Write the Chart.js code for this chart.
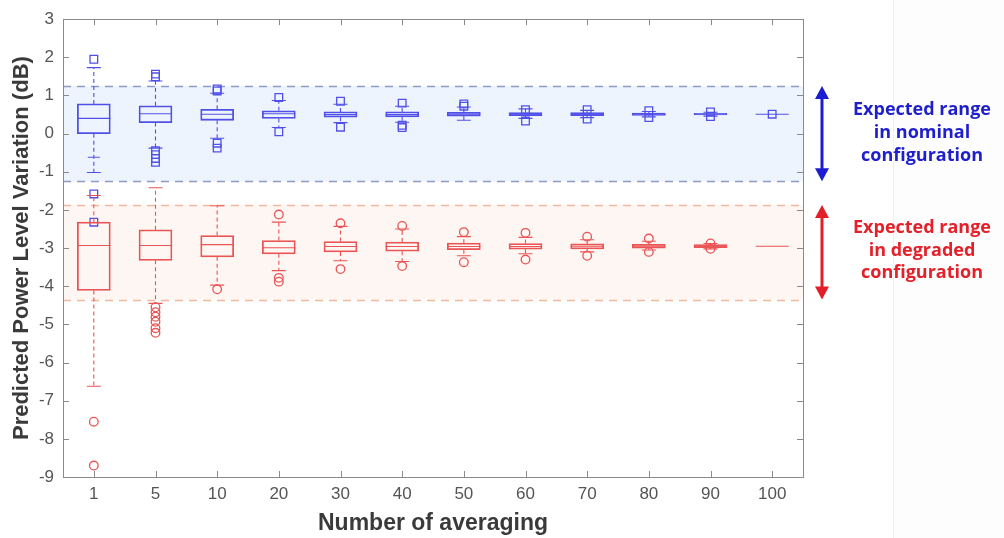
<!DOCTYPE html>
<html><head><meta charset="utf-8">
<script src="https://cdn.jsdelivr.net/npm/chart.js@4/dist/chart.umd.min.js"></script>
<style>html,body{margin:0;padding:0;background:#fff;}#wrap{width:1004px;height:538px;position:relative;}</style>
</head><body><div id="wrap"><canvas id="c" width="1004" height="538"></canvas></div>
<script>
// ---- data ----
const categories = ['1','5','10','20','30','40','50','60','70','80','90','100'];
const yTicks = [-9,-8,-7,-6,-5,-4,-3,-2,-1,0,1,2,3];

const blueQ1   = [0.00, 0.29, 0.35, 0.40, 0.43, 0.44, 0.46, 0.47, 0.47, 0.48, 0.49, 0.51];
const blueMed  = [0.40, 0.52, 0.51, 0.52, 0.50, 0.50, 0.51, 0.51, 0.51, 0.51, 0.51, 0.51];
const blueQ3   = [0.78, 0.73, 0.64, 0.60, 0.57, 0.57, 0.56, 0.55, 0.55, 0.54, 0.53, 0.51];
const blueLow  = [-1.02, -0.38, -0.12, 0.16, 0.29, 0.30, 0.35, 0.40, 0.42, 0.44, 0.46, 0.51];
const blueHigh = [1.73, 1.38, 1.06, 0.87, 0.77, 0.72, 0.70, 0.65, 0.61, 0.58, 0.56, 0.51];
const blueOutCat = ['1','1','1','5','5','5','5','5','5','10','10','10','10','20','20','30','30','40','40','40','50','50','60','60','70','70','80','80','90','90','100'];
const blueOutVal = [1.95,-1.58,-2.32,1.56,1.49,-0.45,-0.55,-0.65,-0.75,1.17,1.12,-0.25,-0.38,0.95,0.05,0.85,0.17,0.80,0.22,0.16,0.78,0.72,0.63,0.33,0.63,0.38,0.60,0.42,0.57,0.45,0.51];
const blueMarkCat = ['1'];
const blueMarkVal = [-0.62];

const redQ1   = [-4.11, -3.32, -3.23, -3.15, -3.10, -3.08, -3.04, -3.03, -3.02, -3.00, -2.99, -2.95];
const redMed  = [-2.93, -2.93, -2.91, -2.99, -2.96, -2.96, -2.96, -2.96, -2.95, -2.95, -2.95, -2.95];
const redQ3   = [-2.32, -2.52, -2.67, -2.80, -2.83, -2.84, -2.87, -2.88, -2.89, -2.90, -2.91, -2.95];
const redLow  = [-6.62, -4.45, -3.97, -3.59, -3.33, -3.35, -3.20, -3.15, -3.10, -3.05, -3.02, -2.95];
const redHigh = [-1.62, -1.42, -1.89, -2.32, -2.43, -2.50, -2.70, -2.72, -2.78, -2.82, -2.88, -2.95];
const redOutCat = ['1','1','5','5','5','5','5','5','10','20','20','20','30','30','40','40','50','50','60','60','70','70','80','80','90','90'];
const redOutVal = [-7.55,-8.70,-4.55,-4.68,-4.80,-4.93,-5.10,-5.22,-4.08,-2.12,-3.78,-3.88,-2.35,-3.55,-2.42,-3.47,-2.58,-3.37,-2.60,-3.30,-2.70,-3.20,-2.75,-3.10,-2.88,-3.02];

const nominalRange = [-1.25, 1.25];
const degradedRange = [-4.35, -1.87];
const nominalText = ['Expected range', 'in nominal', 'configuration'];
const degradedText = ['Expected range', 'in degraded', 'configuration'];

// ---- style ----
const BLUE = 'rgb(80,80,232)';
const RED = 'rgb(234,84,84)';
const BOXW = 33;
const TICKFONT = {family: '"Liberation Sans Narrow", "Liberation Sans", Arial', size: 17};

const boxes = [
  {q1: blueQ1, med: blueMed, q3: blueQ3, lo: blueLow, hi: blueHigh, color: BLUE},
  {q1: redQ1, med: redMed, q3: redQ3, lo: redLow, hi: redHigh, color: RED}
];

const boxPlugin = {
  id: 'boxPlugin',
  beforeDatasetsDraw(chart) {
    const {ctx, chartArea: a, scales: {y}} = chart;
    ctx.save();
    ctx.fillStyle = '#fdfdfd';
    ctx.fillRect(893, 0, chart.width - 893, chart.height);
    ctx.strokeStyle = '#efefef';
    ctx.beginPath(); ctx.moveTo(893.5, 0); ctx.lineTo(893.5, chart.height); ctx.stroke();
    const bands = [
      {r: nominalRange, fill: '#eef4fd', line: '#8c9cc4'},
      {r: degradedRange, fill: '#fef6f2', line: '#f2b79c'}
    ];
    bands.forEach(b => {
      const yt = y.getPixelForValue(b.r[1]);
      const yb = y.getPixelForValue(b.r[0]);
      ctx.fillStyle = b.fill;
      ctx.fillRect(a.left, yt, a.right - a.left, yb - yt);
      ctx.strokeStyle = b.line;
      ctx.lineWidth = 1.3;
      ctx.setLineDash([8, 6]);
      [yt, yb].forEach(v => {
        ctx.beginPath(); ctx.moveTo(a.left, Math.round(v) + 0.5); ctx.lineTo(a.right, Math.round(v) + 0.5); ctx.stroke();
      });
      ctx.setLineDash([]);
    });
    ctx.restore();
  },
  afterDatasetsDraw(chart) {
    const {ctx, chartArea: a, scales: {x, y}} = chart;
    ctx.save();
    boxes.forEach(b => {
      ctx.strokeStyle = b.color;
      ctx.lineWidth = 1.1;
      categories.forEach((c, i) => {
        const px = x.getPixelForValue(i);
        const yq1 = y.getPixelForValue(b.q1[i]);
        const yq3 = y.getPixelForValue(b.q3[i]);
        const ylo = y.getPixelForValue(b.lo[i]);
        const yhi = y.getPixelForValue(b.hi[i]);
        const ymed = y.getPixelForValue(b.med[i]);
        ctx.setLineDash([4, 3]);
        ctx.beginPath();
        ctx.moveTo(px, yq3); ctx.lineTo(px, yhi);
        ctx.moveTo(px, yq1); ctx.lineTo(px, ylo);
        ctx.stroke();
        ctx.setLineDash([]);
        ctx.beginPath();
        ctx.moveTo(px - 7, yhi); ctx.lineTo(px + 7, yhi);
        ctx.moveTo(px - 7, ylo); ctx.lineTo(px + 7, ylo);
        ctx.moveTo(px - BOXW / 2, ymed); ctx.lineTo(px + BOXW / 2, ymed);
        ctx.stroke();
      });
    });
    ctx.strokeStyle = '#8a8a8a';
    ctx.lineWidth = 1;
    ctx.strokeRect(Math.round(a.left) + 0.5, Math.round(a.top) + 0.5, Math.round(a.right - a.left), Math.round(a.bottom - a.top));
    ctx.beginPath();
    categories.forEach((c, i) => {
      const px = Math.round(x.getPixelForValue(i)) + 0.5;
      ctx.moveTo(px, a.bottom); ctx.lineTo(px, a.bottom - 6);
      ctx.moveTo(px, a.top); ctx.lineTo(px, a.top + 6);
    });
    yTicks.forEach(v => {
      const py = Math.round(y.getPixelForValue(v)) + 0.5;
      ctx.moveTo(a.left, py); ctx.lineTo(a.left + 6, py);
      ctx.moveTo(a.right, py); ctx.lineTo(a.right - 6, py);
    });
    ctx.stroke();
    ctx.restore();
  },
  afterDraw(chart) {
    const {ctx, scales: {y}} = chart;
    const ax = 822;
    const drawArrow = (r, color) => {
      const yt = y.getPixelForValue(r[1]);
      const yb = y.getPixelForValue(r[0]);
      ctx.strokeStyle = color; ctx.fillStyle = color;
      ctx.lineWidth = 3;
      ctx.beginPath(); ctx.moveTo(ax, yt + 10); ctx.lineTo(ax, yb - 10); ctx.stroke();
      ctx.beginPath(); ctx.moveTo(ax, yt); ctx.lineTo(ax - 7, yt + 13); ctx.lineTo(ax + 7, yt + 13); ctx.closePath(); ctx.fill();
      ctx.beginPath(); ctx.moveTo(ax, yb); ctx.lineTo(ax - 7, yb - 13); ctx.lineTo(ax + 7, yb - 13); ctx.closePath(); ctx.fill();
    };
    ctx.save();
    drawArrow(nominalRange, 'rgb(28,28,210)');
    drawArrow(degradedRange, 'rgb(226,30,40)');
    ctx.font = 'bold 18px "Open Sans"';
    ctx.textAlign = 'center';
    ctx.textBaseline = 'middle';
    ctx.fillStyle = 'rgb(30,30,205)';
    nominalText.forEach((t, i) => ctx.fillText(t, 922, 110 + i * 23));
    ctx.fillStyle = 'rgb(228,32,42)';
    degradedText.forEach((t, i) => ctx.fillText(t, 922, 228 + i * 22.5));
    ctx.restore();
  }
};

const mkPts = (cats, vals) => cats.map((c, i) => ({x: c, y: vals[i]}));

new Chart(document.getElementById('c'), {
  data: {
    labels: categories,
    datasets: [
      {type: 'bar', label: 'nominal', data: categories.map((c, i) => [blueQ1[i], blueQ3[i]]), grouped: false,
       backgroundColor: 'rgba(0,0,0,0)', borderColor: BLUE, borderWidth: 1.1, borderSkipped: false, barThickness: BOXW},
      {type: 'bar', label: 'degraded', data: categories.map((c, i) => [redQ1[i], redQ3[i]]), grouped: false,
       backgroundColor: 'rgba(0,0,0,0)', borderColor: RED, borderWidth: 1.1, borderSkipped: false, barThickness: BOXW},
      {type: 'line', label: 'nominal outliers', data: mkPts(blueOutCat, blueOutVal), showLine: false,
       pointStyle: 'rect', pointRadius: 5.4, pointBorderColor: BLUE, pointBackgroundColor: 'rgba(0,0,0,0)', pointBorderWidth: 1.3},
      {type: 'line', label: 'nominal marks', data: mkPts(blueMarkCat, blueMarkVal), showLine: false,
       pointStyle: 'line', pointRadius: 6, pointBorderColor: BLUE, pointBorderWidth: 1.1},
      {type: 'line', label: 'degraded outliers', data: mkPts(redOutCat, redOutVal), showLine: false,
       pointStyle: 'circle', pointRadius: 4.3, pointBorderColor: RED, pointBackgroundColor: 'rgba(0,0,0,0)', pointBorderWidth: 1.3}
    ]
  },
  options: {
    responsive: false,
    animation: false,
    devicePixelRatio: 1,
    layout: {padding: {left: 0, right: 201, top: 18, bottom: 0}},
    plugins: {legend: {display: false}, tooltip: {enabled: false}},
    scales: {
      x: {
        type: 'category', offset: true,
        grid: {display: false, drawTicks: false},
        border: {display: false},
        ticks: {padding: 7, color: '#555', font: TICKFONT},
        title: {display: true, text: 'Number of averaging', color: '#3a3a3a',
                font: {family: '"Liberation Sans", Arial', size: 23, weight: 'bold', lineHeight: 1.2}, padding: {top: 0, bottom: 1}},
        afterFit(s) { s.height = 61; }
      },
      y: {
        min: -9, max: 3,
        afterBuildTicks(s) { s.ticks = yTicks.map(v => ({value: v})); },
        grid: {display: false, drawTicks: false},
        border: {display: false},
        ticks: {padding: 9, color: '#555', font: TICKFONT},
        title: {display: true, text: 'Predicted Power Level Variation (dB)', color: '#3a3a3a',
                font: {family: '"Liberation Sans", Arial', size: 22, weight: 'bold', lineHeight: 1.2}, padding: {top: 9, bottom: 0}},
        afterFit(s) { s.width = 63; }
      }
    }
  },
  plugins: [boxPlugin]
});
</script></body></html>
